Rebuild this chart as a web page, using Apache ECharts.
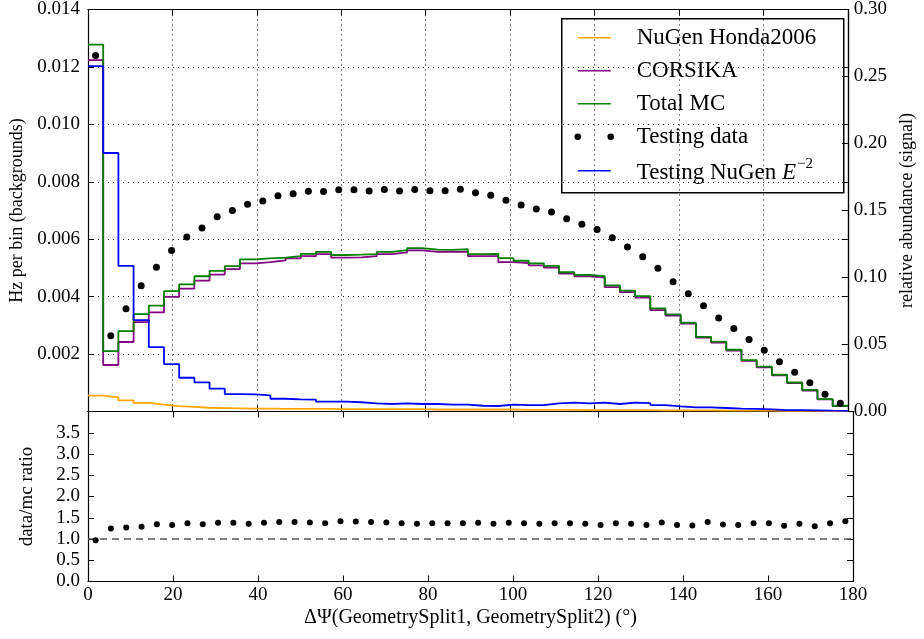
<!DOCTYPE html>
<html>
<head>
<meta charset="utf-8">
<script src="https://cdn.jsdelivr.net/npm/echarts@6/dist/echarts.min.js"></script>
<style>
  html, body { margin: 0; padding: 0; background: #fff; }
  #chart { width: 924px; height: 639px; }
</style>
</head>
<body>
<div id="chart"></div>
<script>
// Histogram binning of ΔΨ: 50 bins of 3.6° between 0° and 180°
const binWidth = 3.6;
const nBins = 50;

// Background rates per bin (Hz)
const nugenHonda = [0.00055,0.00049,0.00039,0.00030,0.00024,0.00019,0.00016,0.00013,0.00012,0.00011,
  0.00010,0.00010,0.00009,0.00009,0.00009,0.00009,0.00008,0.00008,0.00008,0.00008,
  0.00008,0.00008,0.00007,0.00007,0.00007,0.00007,0.00007,0.00007,0.00006,0.00006,
  0.00006,0.00006,0.00005,0.00005,0.00005,0.00005,0.00005,0.00004,0.00004,0.00004,
  0.00004,0.00003,0.00003,0.00003,0.00003,0.00002,0.00002,0.00002,0.00001,0.00001];

const corsika = [0.01224,0.00162,0.00242,0.00311,0.00345,0.00399,0.00428,0.00456,0.00477,0.00496,
  0.00516,0.00520,0.00526,0.00533,0.00541,0.00548,0.00536,0.00537,0.00541,0.00548,
  0.00554,0.00561,0.00556,0.00556,0.00556,0.00541,0.00541,0.00520,0.00517,0.00509,
  0.00501,0.00480,0.00471,0.00466,0.00433,0.00416,0.00397,0.00353,0.00334,0.00306,
  0.00257,0.00240,0.00212,0.00176,0.00154,0.00126,0.00099,0.00073,0.00042,0.00019];

const totalMC = [0.01278,0.00210,0.00280,0.00339,0.00369,0.00419,0.00443,0.00471,0.00490,0.00506,
  0.00530,0.00533,0.00536,0.00541,0.00549,0.00556,0.00545,0.00546,0.00548,0.00556,
  0.00562,0.00569,0.00564,0.00563,0.00565,0.00548,0.00549,0.00534,0.00525,0.00516,
  0.00507,0.00485,0.00476,0.00471,0.00439,0.00421,0.00402,0.00359,0.00338,0.00309,
  0.00260,0.00243,0.00215,0.00179,0.00156,0.00128,0.00101,0.00075,0.00043,0.00020];

const testingData = [0.01240,0.00264,0.00358,0.00438,0.00502,0.00561,0.00608,0.00639,0.00678,0.00700,
  0.00722,0.00733,0.00751,0.00758,0.00767,0.00766,0.00772,0.00772,0.00768,0.00773,
  0.00768,0.00773,0.00769,0.00769,0.00774,0.00762,0.00753,0.00736,0.00719,0.00705,
  0.00695,0.00671,0.00652,0.00634,0.00605,0.00573,0.00539,0.00499,0.00452,0.00410,
  0.00368,0.00326,0.00289,0.00251,0.00213,0.00173,0.00137,0.00100,0.00060,0.00029];

// Signal: relative abundance per bin
const testingNuGenE2 = [0.2577,0.1929,0.1087,0.0682,0.0481,0.0354,0.0252,0.0218,0.0170,0.0130,
  0.0128,0.0121,0.0095,0.0091,0.0089,0.0073,0.0073,0.0069,0.0061,0.0056,
  0.0061,0.0056,0.0056,0.0051,0.0051,0.0043,0.0041,0.0051,0.0048,0.0048,
  0.0061,0.0066,0.0061,0.0066,0.0056,0.0066,0.0063,0.0048,0.0038,0.0031,
  0.0031,0.0026,0.0021,0.0019,0.0016,0.0011,0.0011,0.0009,0.0006,0.0004];

// data / MC ratio per bin
const ratio = [0.97,1.25,1.27,1.29,1.35,1.33,1.37,1.35,1.38,1.38,
  1.36,1.38,1.40,1.40,1.39,1.37,1.42,1.41,1.40,1.39,
  1.37,1.36,1.37,1.37,1.37,1.38,1.36,1.38,1.37,1.36,
  1.37,1.37,1.36,1.33,1.37,1.36,1.33,1.39,1.33,1.32,
  1.40,1.34,1.33,1.37,1.37,1.31,1.36,1.30,1.37,1.42];

const binEdges = [];
for (let i = 0; i <= nBins; i++) binEdges.push(+(i * binWidth).toFixed(2));
const binCenters = binEdges.slice(0, nBins).map(e => +(e + binWidth / 2).toFixed(2));

// step outline: value of bin i held from its left edge to the next edge
function stepPoints(vals) {
  return binEdges.map((e, i) => [e, vals[Math.min(i, vals.length - 1)]]);
}
function points(vals) {
  return binCenters.map((c, i) => [c, vals[i]]);
}

const FONT = '"Liberation Serif", "DejaVu Serif", serif';
const dotted = { color: '#000', width: 1, type: [1, 4] };
const tickIn = { inside: true, length: 6, lineStyle: { color: '#000', width: 1 } };
const axisLine = { show: true, onZero: false, lineStyle: { color: '#000', width: 1.2 } };
const TICK_FS = 19, NAME_FS = 18, LEG_FS = 23;

const chart = echarts.init(document.getElementById('chart'), null, { renderer: 'canvas' });

const GRID_L = 88, GRID_R = 71;

const option = {
  animation: false,
  backgroundColor: '#fff',
  textStyle: { fontFamily: FONT },
  grid: [
    { left: GRID_L, right: GRID_R, top: 9, height: 402.5 },
    { left: GRID_L, right: GRID_R, top: 411.5, height: 170 }
  ],
  xAxis: [
    { gridIndex: 0, type: 'value', min: 0, max: 180, interval: 20, position: 'bottom',
      axisLine, axisTick: tickIn, axisLabel: { show: false },
      splitLine: { show: true, lineStyle: dotted } },
    { gridIndex: 1, type: 'value', min: 0, max: 180, interval: 20, position: 'bottom',
      axisLine, axisTick: tickIn,
      axisLabel: { show: true, color: '#000', fontSize: TICK_FS, fontFamily: FONT, margin: 4 },
      splitLine: { show: false },
      name: 'ΔΨ(GeometrySplit1, GeometrySplit2) (°)', nameLocation: 'middle', nameGap: 26,
      nameTextStyle: { color: '#000', fontSize: 20, fontFamily: FONT } },
    { gridIndex: 0, type: 'value', min: 0, max: 180, interval: 20, position: 'top',
      axisLine, axisTick: tickIn, axisLabel: { show: false }, splitLine: { show: false } },
    { gridIndex: 1, type: 'value', min: 0, max: 180, interval: 20, position: 'top',
      axisLine, axisTick: tickIn, axisLabel: { show: false }, splitLine: { show: false } }
  ],
  yAxis: [
    { gridIndex: 0, type: 'value', min: 0, max: 0.014, interval: 0.002, position: 'left',
      axisLine, axisTick: tickIn,
      axisLabel: { color: '#000', fontSize: TICK_FS, fontFamily: FONT, margin: 8,
        formatter: v => (v === 0 ? '' : v.toFixed(3)) },
      splitLine: { show: true, lineStyle: dotted },
      name: 'Hz per bin (backgrounds)', nameLocation: 'middle', nameGap: 60, nameRotate: 90,
      nameTextStyle: { color: '#000', fontSize: NAME_FS, fontFamily: FONT } },
    { gridIndex: 0, type: 'value', min: 0, max: 0.30, interval: 0.05, position: 'right',
      axisLine, axisTick: tickIn,
      axisLabel: { color: '#000', fontSize: TICK_FS, fontFamily: FONT, margin: 6,
        formatter: v => v.toFixed(2) },
      splitLine: { show: false },
      name: 'relative abundance (signal)', nameLocation: 'middle', nameGap: 50, nameRotate: 90,
      nameTextStyle: { color: '#000', fontSize: NAME_FS, fontFamily: FONT } },
    { gridIndex: 0, type: 'value', min: 0, max: 0.014, interval: 0.002, position: 'right',
      axisLine, axisTick: tickIn, axisLabel: { show: false }, splitLine: { show: false } },
    { gridIndex: 1, type: 'value', min: 0, max: 4, interval: 0.5, position: 'left',
      axisLine, axisTick: tickIn,
      axisLabel: { color: '#000', fontSize: TICK_FS, fontFamily: FONT, margin: 8,
        formatter: v => (v >= 4 ? '' : v.toFixed(1)) },
      splitLine: { show: false },
      name: 'data/mc ratio', nameLocation: 'middle', nameGap: 51, nameRotate: 90,
      nameTextStyle: { color: '#000', fontSize: 19, fontFamily: FONT } },
    { gridIndex: 1, type: 'value', min: 0, max: 4, interval: 0.5, position: 'right',
      axisLine, axisTick: tickIn, axisLabel: { show: false }, splitLine: { show: false } }
  ],
  series: [
    { name: 'NuGen Honda2006', type: 'line', xAxisIndex: 0, yAxisIndex: 0, step: 'end',
      data: stepPoints(nugenHonda), showSymbol: false, symbol: 'none',
      lineStyle: { color: '#FFA500', width: 1.8 }, z: 3 },
    { name: 'CORSIKA', type: 'line', xAxisIndex: 0, yAxisIndex: 0, step: 'end',
      data: stepPoints(corsika), showSymbol: false, symbol: 'none',
      lineStyle: { color: '#800080', width: 1.8 }, z: 3 },
    { name: 'Total MC', type: 'line', xAxisIndex: 0, yAxisIndex: 0, step: 'end',
      data: stepPoints(totalMC), showSymbol: false, symbol: 'none',
      lineStyle: { color: '#008000', width: 1.8 }, z: 3 },
    { name: 'Testing data', type: 'scatter', xAxisIndex: 0, yAxisIndex: 0,
      data: points(testingData), symbol: 'circle', symbolSize: 7,
      itemStyle: { color: '#000', opacity: 1 }, z: 4 },
    { name: 'Testing NuGen E^-2', type: 'line', xAxisIndex: 0, yAxisIndex: 1, step: 'end',
      data: stepPoints(testingNuGenE2), showSymbol: false, symbol: 'none',
      lineStyle: { color: '#0000FF', width: 1.8 }, z: 3 },
    { name: 'unity', type: 'line', xAxisIndex: 1, yAxisIndex: 3,
      data: [[0, 1], [180, 1]], showSymbol: false, symbol: 'none',
      lineStyle: { color: '#555', width: 1.3, type: [7, 5] }, z: 2 },
    { name: 'data/mc ratio', type: 'scatter', xAxisIndex: 1, yAxisIndex: 3,
      data: points(ratio), symbol: 'circle', symbolSize: 6,
      itemStyle: { color: '#000', opacity: 1 }, z: 4 }
  ],
  graphic: [
    {
      type: 'group', left: 561, top: 18, z: 100,
      children: [
        { type: 'rect', shape: { x: 0, y: 0, width: 282, height: 174 },
          style: { fill: '#fff', stroke: '#000', lineWidth: 1.5 } },
        { type: 'line', shape: { x1: 16, y1: 19, x2: 49, y2: 19 }, style: { stroke: '#FFA500', lineWidth: 1.5 } },
        { type: 'text', x: 75, y: 19, style: { text: 'NuGen Honda2006', font: LEG_FS + 'px ' + FONT, fill: '#000', verticalAlign: 'middle' } },
        { type: 'line', shape: { x1: 16, y1: 52, x2: 49, y2: 52 }, style: { stroke: '#800080', lineWidth: 1.5 } },
        { type: 'text', x: 75, y: 52, style: { text: 'CORSIKA', font: LEG_FS + 'px ' + FONT, fill: '#000', verticalAlign: 'middle' } },
        { type: 'line', shape: { x1: 16, y1: 85, x2: 49, y2: 85 }, style: { stroke: '#008000', lineWidth: 1.5 } },
        { type: 'text', x: 75, y: 85, style: { text: 'Total MC', font: LEG_FS + 'px ' + FONT, fill: '#000', verticalAlign: 'middle' } },
        { type: 'circle', shape: { cx: 16, cy: 118, r: 3.3 }, style: { fill: '#000' } },
        { type: 'circle', shape: { cx: 49, cy: 118, r: 3.3 }, style: { fill: '#000' } },
        { type: 'text', x: 75, y: 118, style: { text: 'Testing data', font: LEG_FS + 'px ' + FONT, fill: '#000', verticalAlign: 'middle' } },
        { type: 'line', shape: { x1: 16, y1: 152, x2: 49, y2: 152 }, style: { stroke: '#0000FF', lineWidth: 1.5 } },
        { type: 'text', x: 75, y: 152, style: {
            text: '{a|Testing NuGen }{e|E}{s|−2}', fill: '#000', verticalAlign: 'middle',
            rich: {
              a: { fontSize: LEG_FS, fontFamily: FONT, lineHeight: 28, verticalAlign: 'bottom' },
              e: { fontSize: LEG_FS, fontFamily: FONT, fontStyle: 'italic', lineHeight: 28, verticalAlign: 'bottom' },
              s: { fontSize: 15, fontFamily: FONT, lineHeight: 28, verticalAlign: 'top', padding: [0, 0, 0, 1] }
            } } }
      ]
    }
  ]
};

chart.setOption(option);
</script>
</body>
</html>
